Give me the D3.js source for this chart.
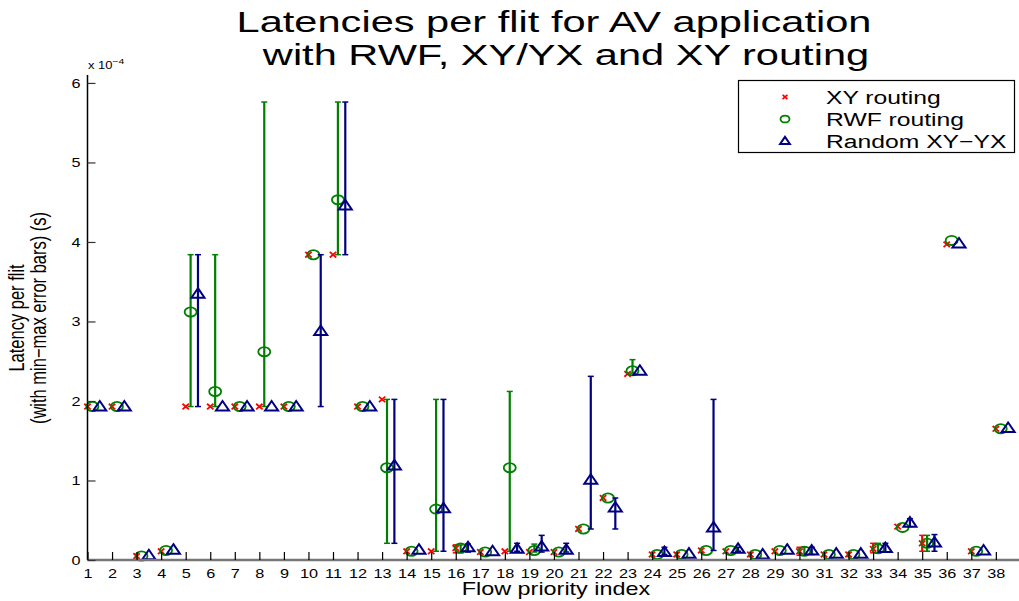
<!DOCTYPE html>
<html><head><meta charset="utf-8">
<script src="https://cdn.jsdelivr.net/npm/d3@7"></script>
<style>body{margin:0;background:#fff;} svg{display:block;font-family:"Liberation Sans",Arial,sans-serif;}</style>
</head><body>
<script>
const categories = [1,2,3,4,5,6,7,8,9,10,11,12,13,14,15,16,17,18,19,20,21,22,23,24,25,26,27,28,29,30,31,32,33,34,35,36,37,38];
const yTicks = [0,1,2,3,4,5,6];
const seriesNames = ["XY routing","RWF routing","Random XY\u2212YX"];
// values in units of 1e-4 s
const xyVal = [1.93,1.93,0.05,0.11,1.93,1.93,1.93,1.93,1.93,3.84,3.84,1.93,2.02,0.11,0.11,0.15,0.10,0.11,0.10,0.10,0.39,0.78,2.34,0.07,0.07,0.12,0.11,0.07,0.11,0.11,0.07,0.07,0.14,0.42,0.21,3.97,0.11,1.65];
const xyMin = [1.93,1.93,0.05,0.11,1.93,1.93,1.93,1.93,1.93,3.84,3.84,1.93,2.02,0.11,0.11,0.09,0.10,0.11,0.10,0.10,0.39,0.78,2.34,0.07,0.07,0.12,0.11,0.07,0.11,0.06,0.07,0.07,0.09,0.42,0.11,3.97,0.11,1.65];
const xyMax = [1.93,1.93,0.05,0.11,1.93,1.93,1.93,1.93,1.93,3.84,3.84,1.93,2.02,0.11,0.11,0.19,0.10,0.11,0.10,0.10,0.39,0.78,2.34,0.07,0.07,0.12,0.11,0.07,0.11,0.16,0.07,0.07,0.21,0.42,0.31,3.97,0.11,1.65];
const rwfVal = [1.93,1.93,0.05,0.12,3.12,2.12,1.93,2.62,1.93,3.84,4.53,1.93,1.16,0.11,0.64,0.15,0.10,1.16,0.12,0.10,0.39,0.78,2.38,0.07,0.07,0.12,0.12,0.07,0.12,0.11,0.07,0.07,0.14,0.41,0.21,4.02,0.11,1.65];
const rwfMin = [1.93,1.93,0.05,0.12,1.93,1.93,1.93,1.93,1.93,3.84,3.84,1.93,0.21,0.11,0.11,0.09,0.10,0.11,0.10,0.10,0.39,0.78,2.35,0.07,0.07,0.12,0.12,0.07,0.12,0.06,0.07,0.07,0.09,0.41,0.11,4.02,0.11,1.65];
const rwfMax = [1.93,1.93,0.05,0.12,3.84,3.84,1.93,5.76,1.93,3.84,5.76,1.93,2.02,0.11,2.02,0.19,0.10,2.12,0.20,0.10,0.39,0.78,2.52,0.07,0.07,0.12,0.12,0.07,0.12,0.16,0.07,0.07,0.21,0.41,0.31,4.02,0.11,1.65];
const rndVal = [1.93,1.93,0.06,0.13,3.35,1.93,1.93,1.93,1.93,2.88,4.46,1.93,1.19,0.13,0.65,0.16,0.11,0.14,0.17,0.13,1.01,0.66,2.38,0.10,0.08,0.41,0.14,0.07,0.13,0.12,0.08,0.08,0.15,0.47,0.22,3.98,0.12,1.66];
const rndMin = [1.93,1.93,0.06,0.13,1.93,1.93,1.93,1.93,1.93,1.93,3.84,1.93,0.21,0.13,0.11,0.10,0.11,0.11,0.10,0.10,0.39,0.39,2.38,0.07,0.08,0.12,0.11,0.07,0.13,0.07,0.08,0.08,0.10,0.42,0.11,3.98,0.12,1.66];
const rndMax = [1.93,1.93,0.06,0.13,3.84,1.93,1.93,1.93,1.93,3.84,5.76,1.93,2.02,0.13,2.02,0.20,0.11,0.21,0.31,0.21,2.31,0.78,2.38,0.16,0.08,2.02,0.16,0.07,0.13,0.16,0.08,0.08,0.21,0.52,0.32,3.98,0.12,1.66];

const W = 1019, H = 601;
const SX = 1.3; // horizontal stretch of all texts in the reference
const svg = d3.select("body").append("svg").attr("width", W).attr("height", H);

const x = d3.scaleLinear().domain([1, 39]).range([87.5, 87.5 + 38 * 24.55]);
const y = d3.scaleLinear().domain([0, 6.1]).range([560, 75]);

const series = [
  {name: seriesNames[0], val: xyVal, min: xyMin, max: xyMax, off: 0, color: "#ff0000", marker: "x"},
  {name: seriesNames[1], val: rwfVal, min: rwfMin, max: rwfMax, off: 0.2, color: "#008000", marker: "o"},
  {name: seriesNames[2], val: rndVal, min: rndMin, max: rndMax, off: 0.5, color: "#000080", marker: "^"}
];

function stext(parent, tx, ty, txt, size, anchor, sx) {
  return parent.append("text")
    .attr("transform", `translate(${tx},${ty}) scale(${sx || SX},1)`)
    .attr("text-anchor", anchor || "start").attr("font-size", size).attr("fill", "#000").text(txt);
}

function drawMarker(g, type, cx, cy, color, k) {
  k = k || 1;
  if (type === "x") {
    const sx = 3.2 * k, sy = 2.8 * k;
    g.append("path").attr("d", `M${cx-sx},${cy-sy}L${cx+sx},${cy+sy}M${cx-sx},${cy+sy}L${cx+sx},${cy-sy}`)
      .attr("stroke", color).attr("stroke-width", 1.8).attr("fill", "none");
  } else if (type === "o") {
    g.append("ellipse").attr("cx", cx).attr("cy", cy).attr("rx", 6 * k).attr("ry", 4.6 * k)
      .attr("stroke", color).attr("stroke-width", 1.8).attr("fill", "none");
  } else {
    g.append("path").attr("d", `M${cx},${cy-5.5*k}L${cx+6.5*k},${cy+4*k}L${cx-6.5*k},${cy+4*k}Z`)
      .attr("stroke", color).attr("stroke-width", 2).attr("fill", "none");
  }
}

const plot = svg.append("g");
series.forEach(s => {
  const g = plot.append("g");
  categories.forEach((c, i) => {
    const cx = x(c + s.off);
    if (s.max[i] - s.min[i] > 0.005) {
      const y1 = y(s.min[i]), y2 = y(s.max[i]);
      g.append("line").attr("x1", cx).attr("x2", cx).attr("y1", y1).attr("y2", y2)
        .attr("stroke", s.color).attr("stroke-width", 2.2);
      [y1, y2].forEach(yy => g.append("line").attr("x1", cx - 3).attr("x2", cx + 3).attr("y1", yy).attr("y2", yy)
        .attr("stroke", s.color).attr("stroke-width", 1.5));
    }
  });
  categories.forEach((c, i) => drawMarker(g, s.marker, x(c + s.off), y(s.val[i]), s.color));
});

// axes
const ax = svg.append("g");
ax.append("line").attr("x1", x(1)).attr("x2", x(1)).attr("y1", y(6.1)).attr("y2", y(0)).attr("stroke", "#000").attr("stroke-width", 1.5);
ax.append("line").attr("x1", x(1)).attr("x2", W).attr("y1", y(0)).attr("y2", y(0)).attr("stroke", "#777").attr("stroke-width", 2.5);

const yAxis = d3.axisLeft(y).tickValues(yTicks).tickSizeInner(-8).tickSizeOuter(0).tickPadding(7).tickFormat(d3.format("d"));
const gy = svg.append("g").attr("transform", `translate(${x(1)},0)`).call(yAxis);
gy.select(".domain").remove();
gy.selectAll(".tick line").attr("stroke", "#333").attr("stroke-width", 1.2);
gy.selectAll(".tick text").remove();
gy.selectAll(".tick").each(function(d) { stext(d3.select(this), -7, 4.5, d, 12.5, "end"); });

const xAxis = d3.axisBottom(x).tickValues(categories).tickSizeInner(-8).tickSizeOuter(0).tickFormat(d3.format("d"));
const gx = svg.append("g").attr("transform", `translate(0,${y(0)})`).call(xAxis);
gx.select(".domain").remove();
gx.selectAll(".tick line").attr("stroke", "#000").attr("stroke-width", 1.2);
gx.selectAll(".tick text").remove();
gx.selectAll(".tick").each(function(d) { stext(d3.select(this), 0, 18, d, 12.5, "middle"); });

// exponent label
const ex = svg.append("text").attr("transform", `translate(88,69) scale(${SX},1)`).attr("font-size", 10).attr("fill", "#000");
ex.append("tspan").text("x 10");
ex.append("tspan").attr("dy", -5).attr("font-size", 8).text("\u22124");

// title
stext(svg, 554, 32, "Latencies per flit for AV application", 29.5, "middle", 1.41);
stext(svg, 566, 65, "with RWF, XY/YX and XY routing", 29.5, "middle", 1.41);

// axis labels
stext(svg, x(20) + 2, 595, "Flow priority index", 18, "middle");
svg.append("text").attr("transform", `translate(24,318) scale(${SX},1) rotate(-90)`).attr("text-anchor", "middle").attr("font-size", 16.5).text("Latency per flit");
svg.append("text").attr("transform", `translate(46,318) scale(${SX},1) rotate(-90)`).attr("text-anchor", "middle").attr("font-size", 16.5).text("(with min\u2212max error bars) (s)");

// legend
const lg = svg.append("g");
lg.append("rect").attr("x", 738.5).attr("y", 80.5).attr("width", 276).attr("height", 72).attr("fill", "#fff").attr("stroke", "#000").attr("stroke-width", 1.2);
series.forEach((s, i) => {
  const yy = 97 + i * 22;
  drawMarker(lg, s.marker, 785, yy, s.color, 0.75);
  stext(lg, 826, yy + 7, s.name, 19, "start");
});
</script>
</body></html>
